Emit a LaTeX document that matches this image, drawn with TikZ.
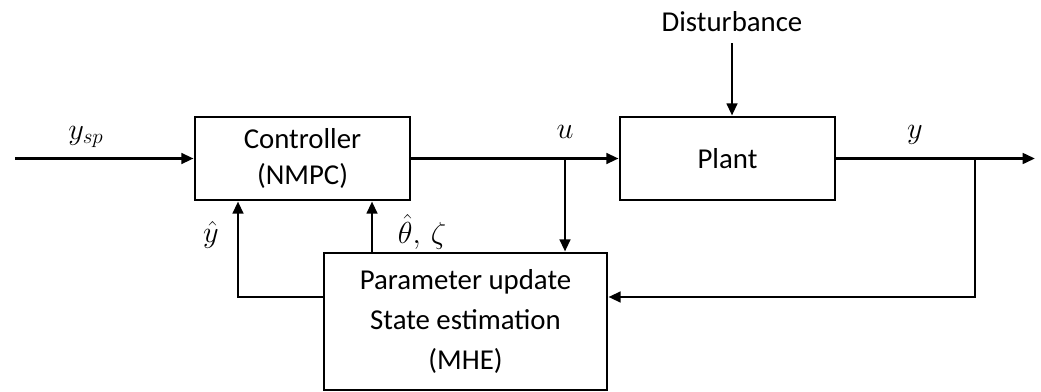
\documentclass[tikz,border=0pt]{standalone}
\usepackage{fontspec}
\setmainfont{Carlito}
\usepackage{amsmath}
\usetikzlibrary{arrows.meta}
\begin{document}
\begin{tikzpicture}[x=0.02cm,y=-0.02cm,
  blk/.style={draw,line width=1.6pt,inner sep=0pt,align=center,font=\fontsize{16.4}{21}\selectfont},
  conn/.style={line width=1.6pt},
  arr/.style={conn,-{Triangle[length=7pt,width=6pt]}},
  lbl/.style={inner sep=0pt,font=\fontsize{16.5}{18}\selectfont}]
\useasboundingbox (0,0) rectangle (1041,392);
\node[blk,minimum width=4.3cm,minimum height=1.66cm] (ctrl) at (302.5,158.5) {Controller\\(NMPC)};
\node[blk,minimum width=4.3cm,minimum height=1.66cm] (plant) at (727.5,158.5) {Plant};
\node[blk,minimum width=5.66cm,minimum height=2.74cm,font=\fontsize{16.4}{23}\selectfont] (mhe) at (465.5,321.5) {Parameter update\\State estimation\\(MHE)};
\node[lbl,font=\fontsize{16.4}{18}\selectfont] (dist) at (732,22) {Disturbance};
\coordinate (in) at (15,158.5);
\coordinate (out) at (1035,158.5);
\coordinate (ub) at (565,158.5);
\coordinate (yb) at (975,158.5);
\coordinate (yc) at (975,297);
\coordinate (yh) at (238,297);
\draw[arr] (in) -- (ctrl.west);
\draw[arr] (ctrl.east) -- (plant.west);
\draw[arr] (plant.east) -- (out);
\draw[arr] (dist.south |- 0,43) -- (dist.south |- plant.north);
\draw[arr] (ub) -- (ub |- mhe.north);
\draw[arr] (yb) -- (yc) -- (yc -| mhe.east);
\draw[arr] (yh -| mhe.west) -- (yh) -- (yh |- ctrl.south);
\draw[arr] (372,0 |- mhe.north) -- (372,0 |- ctrl.south);
\node[lbl] (lysp) at (86,137) {$y_{sp}$};
\node[lbl] (lu) at (565,132) {$u$};
\node[lbl] (ly) at (915,135) {$y$};
\node[lbl] (lyh) at (211,235) {$\hat{y}$};
\node[lbl] (lth) at (422,232) {$\hat{\theta},\,\zeta$};
\end{tikzpicture}
\end{document}
